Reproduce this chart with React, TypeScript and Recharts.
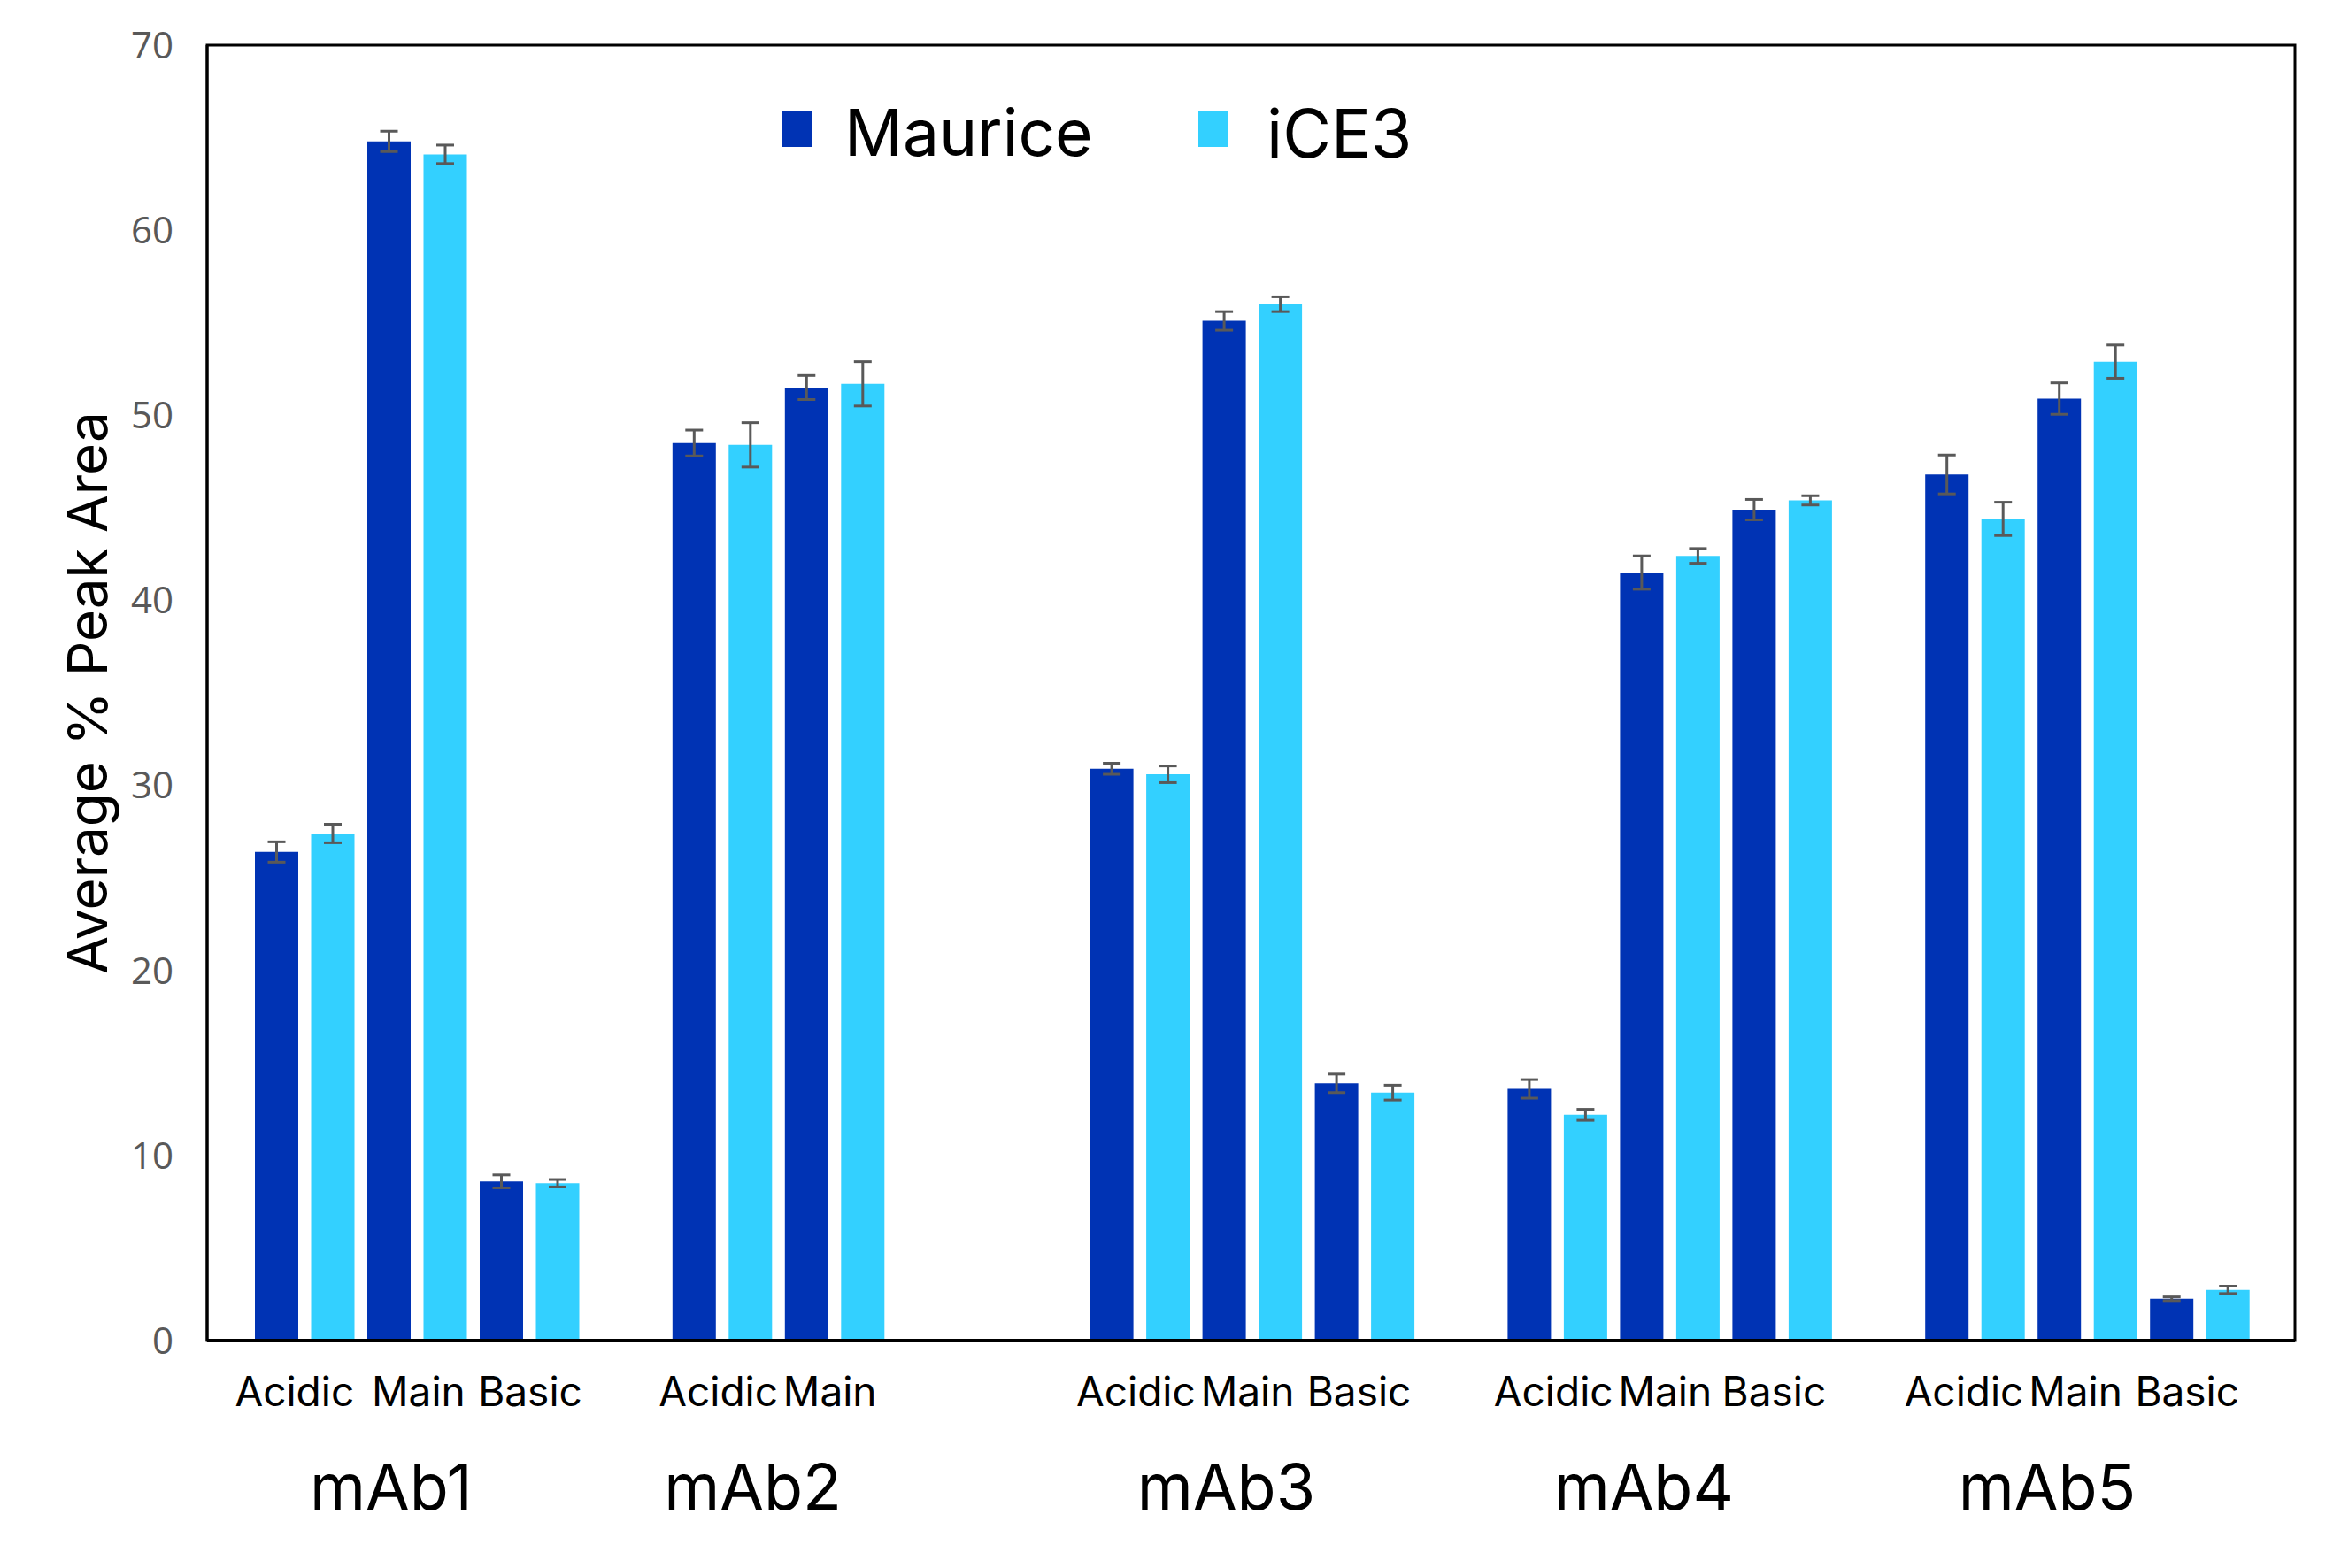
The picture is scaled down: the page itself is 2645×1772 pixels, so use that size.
import React from 'react';
import { BarChart, Bar, XAxis, YAxis, ErrorBar, Legend, ReferenceArea } from 'recharts';

// ---------- data ----------
const antibodies = ['mAb1', 'mAb2', 'mAb3', 'mAb4', 'mAb5'];
const subCategories = ['Acidic', 'Main', 'Basic'];
const instruments = ['Maurice', 'iCE3'];
const yTicks = [0, 10, 20, 30, 40, 50, 60, 70];

const mauriceAcidic = [26.4, 48.5, 30.9, 13.6, 46.8];
const mauriceAcidicErr = [0.55, 0.7, 0.3, 0.5, 1.05];
const ice3Acidic = [27.4, 48.4, 30.6, 12.2, 44.4];
const ice3AcidicErr = [0.5, 1.2, 0.45, 0.3, 0.9];
const mauriceMain = [64.8, 51.5, 55.1, 41.5, 50.9];
const mauriceMainErr = [0.55, 0.65, 0.5, 0.9, 0.85];
const ice3Main = [64.1, 51.7, 56.0, 42.4, 52.9];
const ice3MainErr = [0.5, 1.2, 0.4, 0.4, 0.9];
const mauriceBasic = [8.6, null, 13.9, 44.9, 2.26];
const mauriceBasicErr = [0.35, null, 0.5, 0.55, 0.1];
const ice3Basic = [8.5, null, 13.4, 45.4, 2.74];
const ice3BasicErr = [0.2, null, 0.4, 0.25, 0.2];

// ---------- styling / layout ----------
const W = 2645;
const H = 1772;
const PLOT_LEFT = 234;
const PLOT_RIGHT = 2593;
const PLOT_TOP = 51;
const PLOT_BOTTOM = 1515;
const CAT_GAP = 54;
const BAR_GAP = 14.5;
const COLORS = ['#0033B4', '#33D0FF'];
const FONT = 'Inter, "Noto Sans", sans-serif';
const TICK_FONT = '"Open Sans", "Noto Sans", sans-serif';
// small hand placement nudges of the category text (layout only)
const GROUP_LABEL_NUDGE = [0, 0, 0, 0, -16];
const SUB_LABEL_NUDGE = [[-7, 7, 7], [0, 0, 0], [0, 0, 0], [0, 0, -3], [-8, -8, -8]];

const BAND = (PLOT_RIGHT - PLOT_LEFT) / antibodies.length;
const BAR_SIZE = (BAND - 2 * CAT_GAP - 5 * BAR_GAP) / 6;
const PAIR_STEP = 2 * BAR_SIZE + 2 * BAR_GAP;

const seriesValues = [mauriceAcidic, ice3Acidic, mauriceMain, ice3Main, mauriceBasic, ice3Basic];
const seriesErrors = [mauriceAcidicErr, ice3AcidicErr, mauriceMainErr, ice3MainErr, mauriceBasicErr, ice3BasicErr];
const seriesKeys = ['mAcidic', 'iAcidic', 'mMain', 'iMain', 'mBasic', 'iBasic'];

const data = antibodies.map((name, i) => {
  const row: any = { name };
  seriesKeys.forEach((k, s) => {
    row[k] = seriesValues[s][i];
    row[k + 'Err'] = seriesErrors[s][i];
  });
  return row;
});

const XTick = (props: any) => {
  const { x, y, payload } = props;
  const idx = antibodies.indexOf(payload.value);
  const present = subCategories.map((_, k) => seriesValues[2 * k][idx] != null);
  const centers = subCategories.map((_, k) => x + (k - 1) * PAIR_STEP);
  const shown = centers.filter((_, k) => present[k]);
  const groupCenter = shown.reduce((a, b) => a + b, 0) / shown.length - 28 + GROUP_LABEL_NUDGE[idx];
  return (
    <g>
      {subCategories.map((s, k) =>
        present[k] ? (
          <text
            key={s}
            x={centers[k] - 4 + SUB_LABEL_NUDGE[idx][k]}
            y={y + 74}
            textAnchor="middle"
            fontFamily={FONT}
            fontSize={46}
            fill="#000"
          >
            {s}
          </text>
        ) : null
      )}
      <text x={groupCenter} y={y + 191} textAnchor="middle" fontFamily={FONT} fontSize={72} fill="#000">
        {payload.value}
      </text>
    </g>
  );
};

const YTitle = (props: any) => {
  const { viewBox } = props;
  const cx = 98;
  const cy = viewBox.y + viewBox.height / 2;
  return (
    <text
      x={cx}
      y={cy}
      transform={`rotate(-90 ${cx} ${cy})`}
      textAnchor="middle"
      dominantBaseline="central"
      fontFamily={FONT}
      fontSize={62}
      fill="#000"
    >
      Average % Peak Area
    </text>
  );
};

const LegendContent = () => (
  <div style={{ position: 'relative', width: 800, height: 100 }}>
    {instruments.map((name, i) => (
      <div key={name} style={{ position: 'absolute', left: i * 470, top: 0, height: 100 }}>
        <div style={{ position: 'absolute', left: 0, top: 29, width: 34, height: 40, background: COLORS[i] }} />
        <div
          style={{
            position: 'absolute',
            left: i === 0 ? 70 : 77,
            top: 16,
            fontFamily: FONT,
            fontSize: i === 0 ? 73 : 75,
            lineHeight: 1,
            color: '#000',
            whiteSpace: 'nowrap',
          }}
        >
          {name}
        </div>
      </div>
    ))}
  </div>
);

export default function App() {
  return (
    <div style={{ position: 'absolute', left: 0, top: 0, width: W, height: H, background: '#fff' }}>
      <BarChart
        width={W}
        height={H}
        data={data}
        margin={{ top: PLOT_TOP, right: W - PLOT_RIGHT, bottom: 0, left: 0 }}
        barCategoryGap={CAT_GAP}
        barGap={BAR_GAP}
      >
        <XAxis
          dataKey="name"
          height={H - PLOT_BOTTOM}
          interval={0}
          tickLine={false}
          tickSize={0}
          tickMargin={0}
          axisLine={{ stroke: '#000', strokeWidth: 4 }}
          tick={<XTick />}
        />
        <YAxis
          width={PLOT_LEFT}
          domain={[0, 70]}
          ticks={yTicks}
          interval={0}
          tickLine={false}
          tickSize={0}
          tickMargin={38}
          axisLine={{ stroke: '#000', strokeWidth: 3 }}
          tick={{ fill: '#595959', fontSize: 42, fontFamily: TICK_FONT }}
          label={<YTitle />}
        />
        <ReferenceArea
          x1={antibodies[0]}
          x2={antibodies[antibodies.length - 1]}
          y1={0}
          y2={70}
          fill="none"
          fillOpacity={0}
          stroke="#000"
          strokeWidth={3}
          ifOverflow="visible"
        />
        <Legend
          layout="horizontal"
          align="center"
          verticalAlign="middle"
          content={<LegendContent />}
          wrapperStyle={{ position: 'absolute', left: 884, top: 97, width: 800, height: 100 }}
        />
        {seriesKeys.map((k, s) => (
          <Bar key={k} dataKey={k} fill={COLORS[s % 2]} isAnimationActive={false} legendType="none">
            <ErrorBar dataKey={k + 'Err'} width={10} stroke="#595959" strokeWidth={3} direction="y" />
          </Bar>
        ))}
      </BarChart>
    </div>
  );
}
